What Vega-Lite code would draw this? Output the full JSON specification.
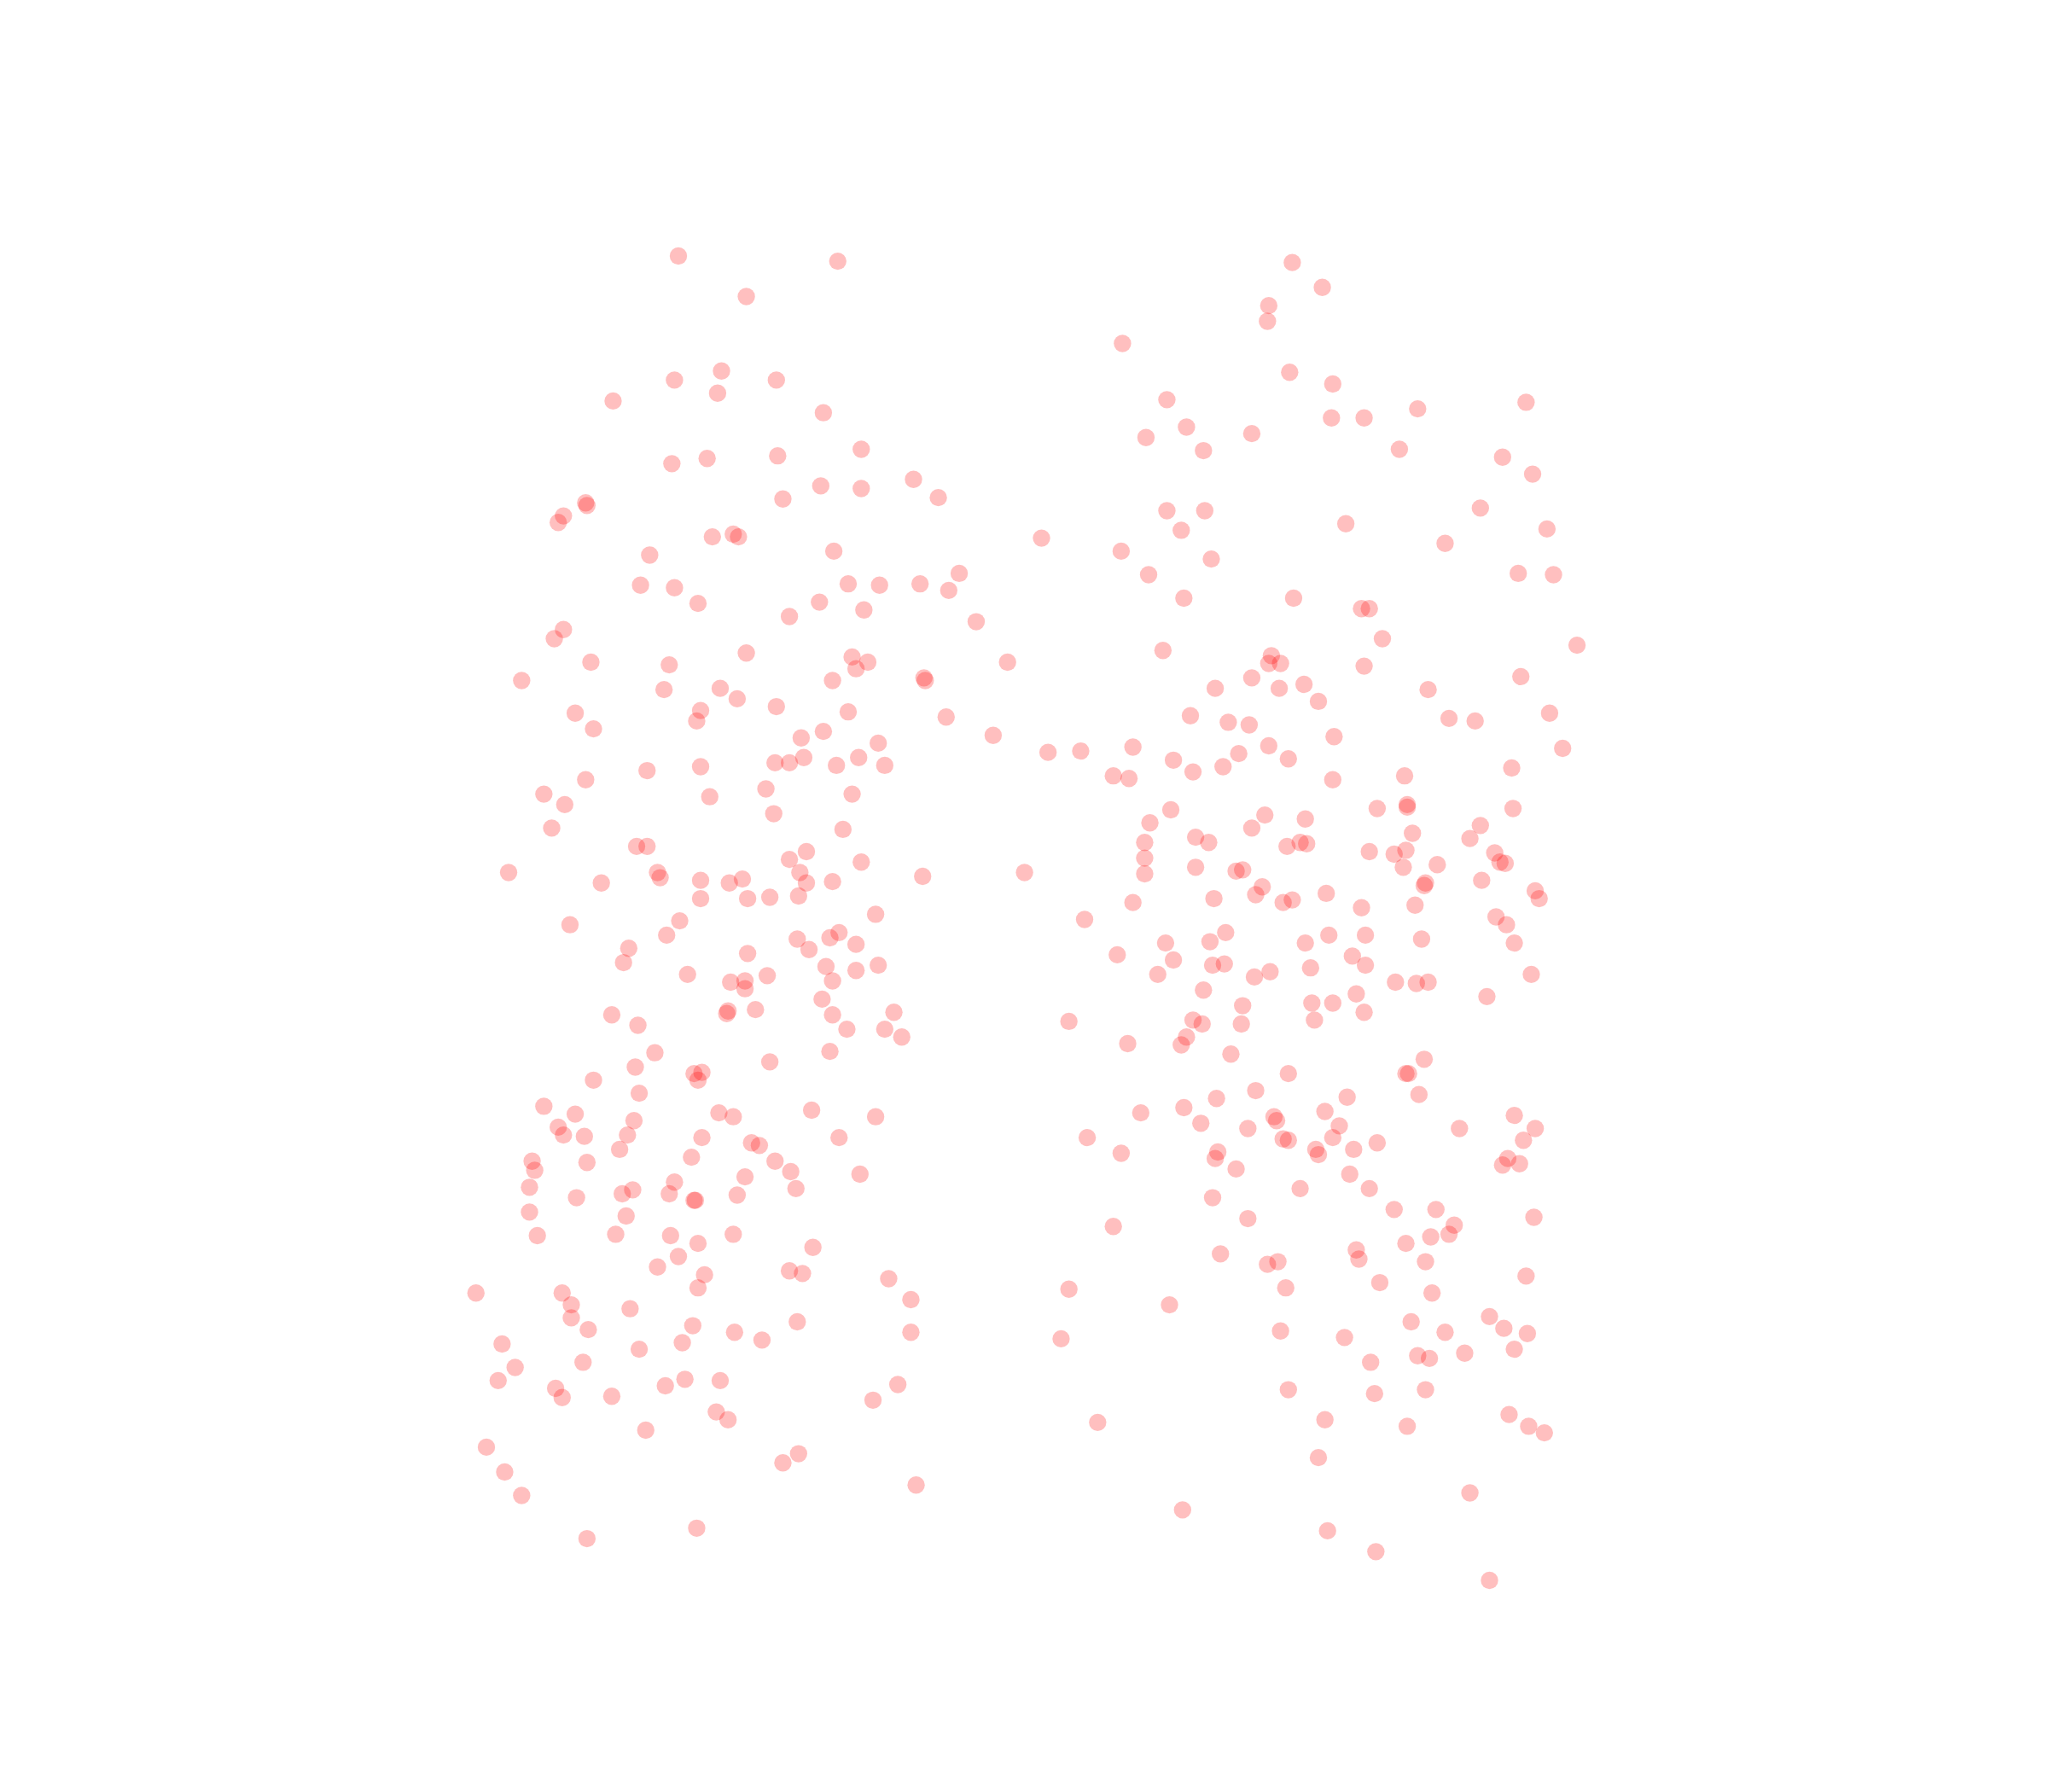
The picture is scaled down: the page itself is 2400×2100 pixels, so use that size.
{"$schema":"https://vega.github.io/schema/vega-lite/v6.json","width":2400,"height":2100,"padding":0,"autosize":{"type":"fit","contains":"padding"},"background":"white","view":{"stroke":null},
"data":{"values":[
[519,196],[641,200],[571,227],[552,284],[516,291],[594,291],[549,301],[469,307],[630,316],[659,344],[541,351],[595,349],[514,355],[699,367],[628,372],[659,374],[718,381],[599,382],[448,385],[449,387],[431,395],[427,400],[545,411],[561,409],[565,411],[638,422],[497,425],[734,439],[490,448],[516,450],[649,447],[673,448],[704,447],[726,452],[534,462],[627,461],[661,467],[604,472],[747,476],[431,482],[424,489],[571,500],[652,503],[664,507],[655,512],[452,507],[512,509],[771,507],[707,519],[708,521],[637,521],[399,521],[508,528],[551,527],[564,535],[594,541],[536,544],[440,546],[533,552],[649,545],[724,549],[454,558],[630,560],[613,565],[760,563],[672,569],[615,580],[657,580],[593,584],[604,584],[640,586],[677,586],[536,587],[495,590],[448,597],[586,604],[652,608],[416,608],[543,610],[432,616],[592,623],[422,634],[645,635],[487,648],[495,648],[617,652],[604,658],[659,660],[389,668],[503,668],[505,672],[612,668],[536,674],[568,673],[558,676],[617,676],[637,675],[706,671],[784,668],[460,676],[536,688],[572,688],[589,687],[611,686],[670,700],[436,708],[520,705],[510,716],[610,719],[635,718],[642,714],[655,723],[481,726],[619,727],[572,730],[477,737],[632,740],[672,739],[655,743],[526,746],[587,747],[637,751],[559,752],[570,751],[570,757],[629,765],[557,774],[556,776],[578,773],[637,777],[684,775],[468,777],[488,785],[648,788],[677,788],[690,794],[501,806],[635,805],[589,813],[486,817],[531,822],[537,821],[534,827],[454,827],[489,837],[416,847],[621,850],[440,853],[550,852],[561,855],[670,855],[485,858],[427,863],[431,869],[447,870],[480,869],[537,871],[642,871],[575,875],[581,877],[474,880],[529,886],[593,889],[407,889],[449,890],[409,896],[605,897],[658,899],[570,901],[516,905],[405,909],[609,910],[484,911],[476,914],[512,914],[564,915],[441,917],[531,919],[532,919],[405,928],[479,931],[411,946],[471,945],[513,946],[561,945],[534,952],[622,955],[519,962],[503,970],[604,973],[614,975],[539,976],[680,979],[534,986],[364,990],[430,990],[697,995],[437,999],[482,1002],[437,1009],[610,1012],[450,1018],[530,1015],[562,1020],[697,1020],[583,1026],[522,1028],[384,1029],[489,1033],[446,1043],[394,1047],[381,1057],[524,1056],[551,1057],[509,1061],[425,1063],[687,1060],[430,1070],[468,1069],[668,1072],[548,1081],[557,1087],[494,1095],[372,1108],[611,1113],[599,1120],[386,1127],[701,1137],[399,1145],[533,1170],[449,1178],
[989,201],[1012,220],[971,234],[970,246],[859,263],[987,285],[1020,294],[893,306],[1168,308],[1085,313],[1019,320],[1044,320],[908,327],[877,335],[958,332],[921,345],[1071,344],[1150,350],[1173,363],[1133,389],[893,391],[922,391],[1030,401],[904,406],[1184,405],[797,412],[1106,416],[858,422],[927,428],[879,440],[1162,439],[1189,440],[906,458],[990,458],[1042,466],[1048,466],[1058,489],[1207,494],[890,498],[973,502],[971,508],[980,508],[1044,510],[958,519],[1164,518],[998,524],[930,527],[979,527],[1093,528],[1009,537],[911,548],[1186,546],[1109,550],[1129,552],[940,553],[956,555],[1021,564],[971,571],[867,572],[802,576],[827,575],[1196,573],[948,577],[898,582],[986,581],[936,587],[913,591],[852,594],[864,596],[1157,588],[1075,594],[1020,597],[1054,619],[896,620],[1077,616],[1077,618],[1158,619],[968,624],[999,627],[880,630],[958,634],[1133,632],[1081,638],[915,641],[925,645],[876,645],[985,648],[995,645],[1000,646],[1125,642],[1048,652],[1067,654],[1076,651],[1144,653],[876,657],[1148,660],[1152,661],[1074,664],[1100,662],[915,664],[946,667],[951,666],[876,669],[1134,674],[1091,676],[1090,678],[966,679],[1015,684],[961,685],[1175,682],[929,688],[867,691],[982,691],[989,689],[1178,688],[1083,693],[1042,695],[830,704],[1145,702],[1153,708],[938,714],[1017,716],[1045,716],[1088,719],[926,721],[892,722],[999,722],[1159,722],[855,731],[1035,732],[898,735],[928,739],[937,738],[1045,739],[1003,741],[972,744],[886,746],[960,748],[1172,746],[1068,752],[1084,753],[1093,752],[921,758],[1138,763],[1038,761],[1004,768],[1020,768],[951,770],[1044,775],[913,781],[920,784],[950,784],[1006,781],[818,782],[908,794],[863,799],[904,800],[942,807],[1090,811],[1076,822],[1078,822],[986,822],[961,835],[1086,838],[931,841],[1031,840],[906,848],[873,852],[1014,851],[1159,854],[975,855],[977,858],[919,860],[955,864],[1025,862],[1117,864],[1175,864],[832,871],[982,872],[986,873],[1020,871],[1054,875],[1166,873],[858,883],[932,882],[930,887],[1007,880],[1036,880],[1009,884],[1154,887],[1150,892],[1163,891],[946,895],[1033,899],[995,910],[1048,910],[928,917],[1067,926],[1099,926],[955,933],[1174,932],[852,939],[1113,938],[1109,945],[1095,947],[1076,952],[1038,957],[934,960],[1040,964],[970,968],[978,966],[1091,966],[1168,977],[1056,982],[818,987],[984,986],[1096,990],[895,999],[1140,1008],[1080,1012],[1151,1017],[980,1019],[1106,1020],[1169,1021],[812,1025],[1029,1024],[1159,1033],[1085,1038],[1094,1040],[1121,1036],[1049,1043],[986,1064],[1091,1064],[1052,1067],[1155,1083],[1014,1087],[1077,1092],[1170,1092],[840,1089],[1182,1097],[1009,1116],[1125,1143],[905,1156],[1016,1172],[1053,1188],[1140,1210]
]},
"mark":{"type":"circle","color":"#ff0000","opacity":0.25,"size":415,"stroke":null},
"encoding":{
"x":{"field":"0","type":"quantitative","axis":null,"scale":{"domain":[-0.4,1567.6],"nice":false,"zero":false}},
"y":{"field":"1","type":"quantitative","axis":null,"scale":{"domain":[1372,0],"nice":false,"zero":false}}
}}
